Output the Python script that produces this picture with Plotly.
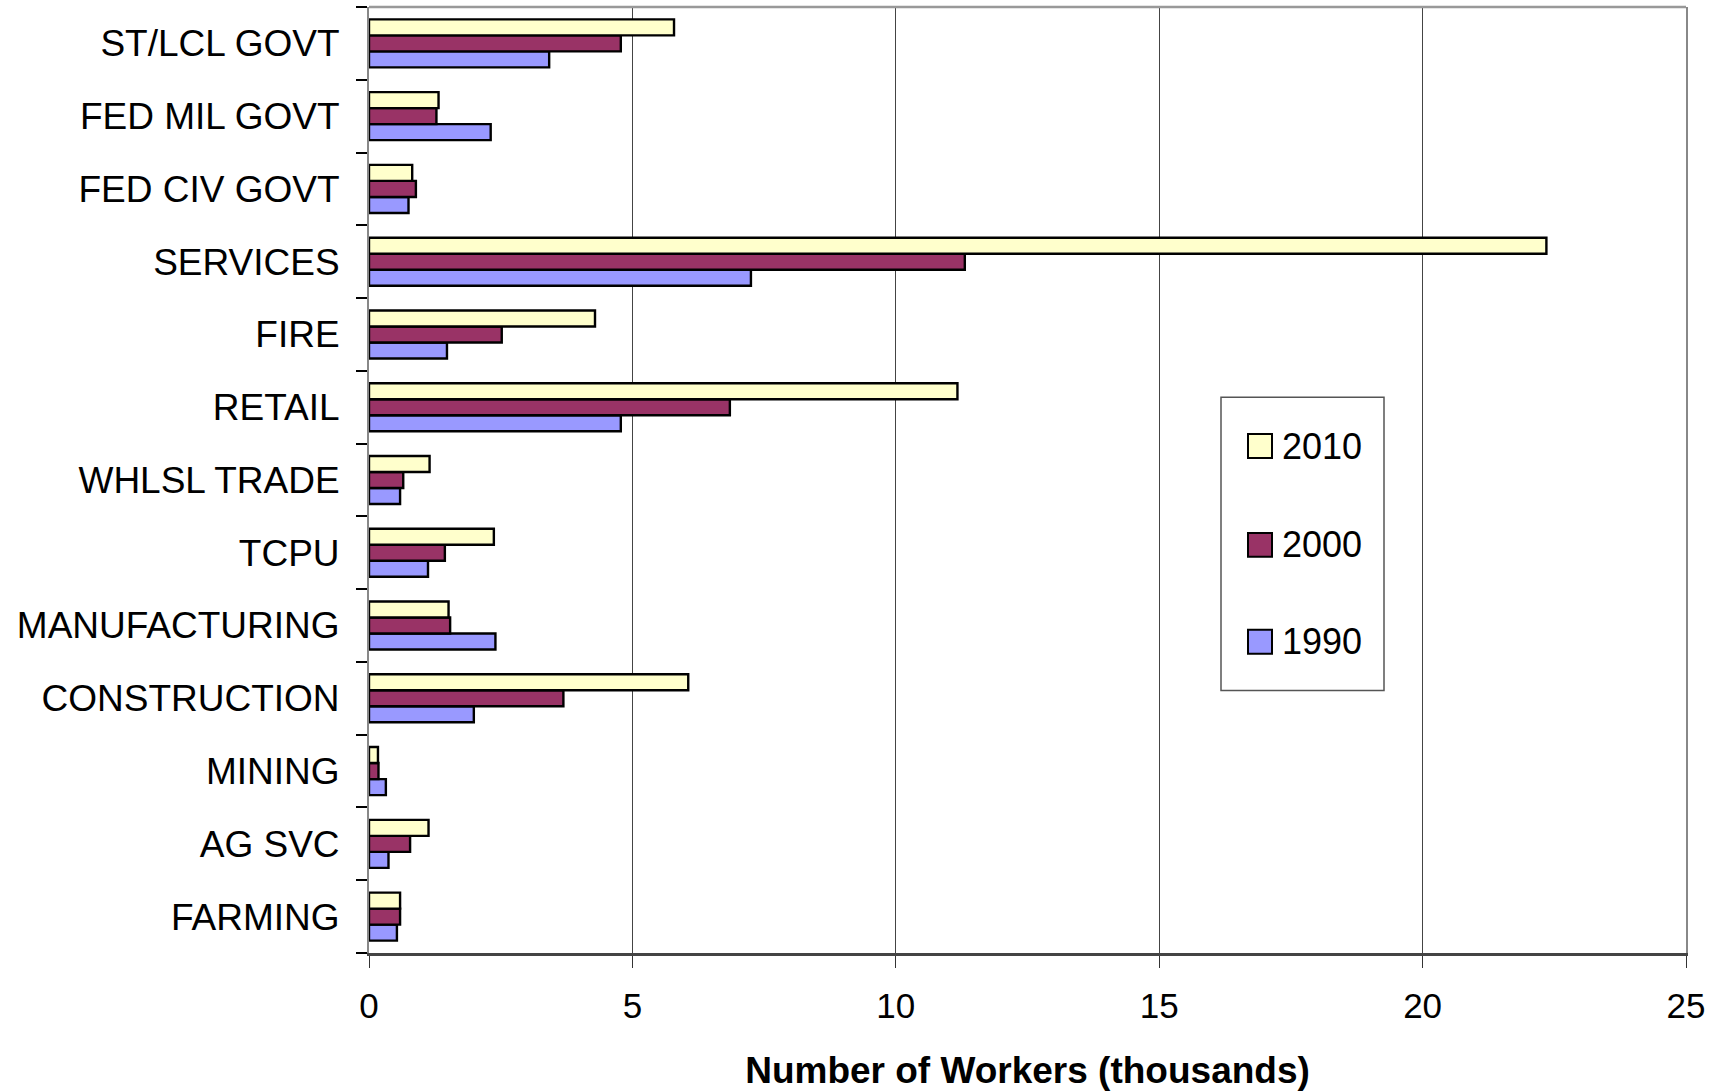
import plotly.graph_objects as go

categories = ["FARMING", "AG SVC", "MINING", "CONSTRUCTION", "MANUFACTURING", "TCPU",
              "WHLSL TRADE", "RETAIL", "FIRE", "SERVICES", "FED CIV GOVT",
              "FED MIL GOVT", "ST/LCL GOVT"]
v1990 = [0.53, 0.37, 0.32, 1.99, 2.40, 1.12, 0.59, 4.78, 1.48, 7.25, 0.75, 2.31, 3.42]
v2000 = [0.59, 0.78, 0.18, 3.69, 1.54, 1.44, 0.65, 6.85, 2.52, 11.31, 0.89, 1.28, 4.78]
v2010 = [0.59, 1.13, 0.17, 6.06, 1.51, 2.37, 1.15, 11.17, 4.29, 22.35, 0.82, 1.32, 5.79]
series_names = ["1990", "2000", "2010"]
series_values = [v1990, v2000, v2010]
series_colors = ["#9999FF", "#993366", "#FFFFCC"]
x_ticks = [0, 5, 10, 15, 20, 25]
x_title = "Number of Workers (thousands)"

FONT = "Arial, Liberation Sans, sans-serif"
W, H = 1717, 1092
L, R, T, B = 369, 31, 7, 137
PW, PH = W - L - R, H - T - B

fig = go.Figure()
for name, vals, col in zip(series_names, series_values, series_colors):
    fig.add_trace(go.Bar(
        y=categories, x=vals, name=name, orientation="h",
        marker=dict(color=col, line=dict(color="#000000", width=2.4)),
        showlegend=False,
    ))

def px(xp):
    return (xp - L) / PW

def py(yp):
    return (H - B - yp) / PH

shapes = [
    dict(type="line", xref="paper", yref="paper", x0=0, x1=1, y0=1, y1=1,
         line=dict(color="#999999", width=2.5)),
    dict(type="rect", xref="paper", yref="paper", x0=px(1221), x1=px(1384),
         y0=py(692), y1=py(398), line=dict(color="#555555", width=1.5),
         fillcolor="white", layer="above"),
]
annotations = []
legend_centers = [643, 546, 447]  # 1990, 2000, 2010
for name, col, cy in zip(series_names, series_colors, legend_centers):
    shapes.append(dict(type="rect", xref="paper", yref="paper",
                       x0=px(1248), x1=px(1272), y0=py(cy + 12), y1=py(cy - 12),
                       line=dict(color="#000000", width=2), fillcolor=col, layer="above"))
    annotations.append(dict(text=name, xref="paper", yref="paper", x=px(1280), y=py(cy),
                            xanchor="left", yanchor="middle", showarrow=False,
                            font=dict(family=FONT, size=36, color="#000000")))

fig.update_layout(
    width=W, height=H,
    margin=dict(l=L, r=R, t=T, b=B, pad=0),
    paper_bgcolor="white", plot_bgcolor="white",
    barmode="group", bargap=0.34, bargroupgap=0,
    font=dict(family=FONT, size=35, color="#000000"),
    shapes=shapes, annotations=annotations,
    xaxis=dict(
        range=[0, 25], tickvals=x_ticks, ticktext=[str(t) for t in x_ticks],
        showgrid=True, gridcolor="#444444", gridwidth=1, zeroline=False,
        showline=True, linecolor="#444444", linewidth=2.5,
        ticks="outside", ticklen=12, tickwidth=1, tickcolor="#333333",
        tickfont=dict(family=FONT, size=35, color="#000000"),
        ticklabelstandoff=8,
        title=dict(text="<b>" + x_title + "</b>", standoff=34,
                   font=dict(family=FONT, size=37, color="#000000")),
    ),
    yaxis=dict(
        categoryorder="array", categoryarray=categories,
        showgrid=False, zeroline=False,
        showline=True, linecolor="#888888", linewidth=2, mirror=True,
        ticks="outside", tickson="boundaries", ticklen=11, tickwidth=1.5,
        tickcolor="#000000",
        tickfont=dict(family=FONT, size=37, color="#000000"),
        ticklabelstandoff=20,
    ),
)

fig.write_html("out.html", config={"displayModeBar": False},
               post_script="document.body.style.margin='0px';document.body.style.overflow='hidden';")
